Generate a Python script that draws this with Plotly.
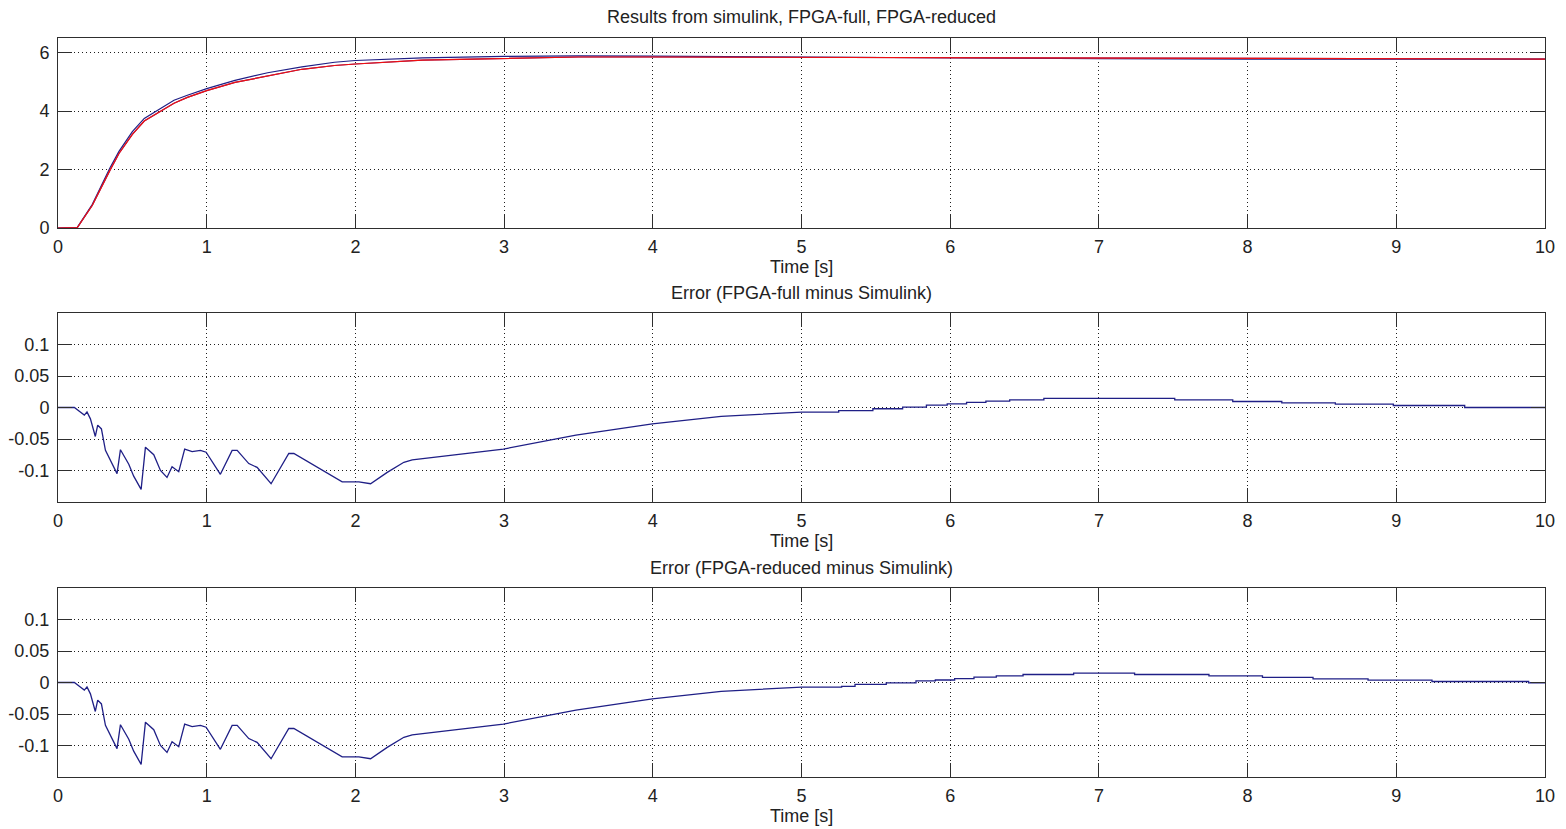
import plotly.graph_objects as go

# ---------------- data ----------------
# Top panel: step responses
time_resp = [0, 0.1, 0.13, 0.23, 0.29, 0.35, 0.41, 0.5, 0.58, 0.67, 0.78, 0.87, 1.0, 1.19,
             1.41, 1.64, 1.86, 2.0, 2.45, 3.0, 3.5, 4.0, 5.0, 6.0, 7.0, 8.0, 9.0, 10.0]
simulink = [0, 0, 0.02, 0.8, 1.43, 2.06, 2.62, 3.3, 3.75, 4.03, 4.37, 4.54, 4.77, 5.05,
            5.31, 5.51, 5.67, 5.73, 5.82, 5.87, 5.89, 5.88, 5.85, 5.81, 5.79, 5.78, 5.78, 5.78]
fpga_full = [0, 0, 0.017, 0.77, 1.40, 1.98, 2.55, 3.20, 3.66, 3.94, 4.27, 4.47, 4.70, 4.98,
             5.20, 5.43, 5.56, 5.61, 5.74, 5.80, 5.85, 5.85, 5.84, 5.82, 5.81, 5.79, 5.78, 5.78]
fpga_reduced = [0, 0, 0.017, 0.77, 1.40, 1.98, 2.55, 3.20, 3.66, 3.94, 4.27, 4.47, 4.70, 4.98,
                5.20, 5.43, 5.56, 5.61, 5.74, 5.80, 5.85, 5.85, 5.84, 5.814, 5.805, 5.79, 5.78, 5.78]

# Error panels: common early part (0 .. 5 s)
err_time_early = [0, 0.11, 0.15, 0.177, 0.195, 0.218, 0.251, 0.267, 0.292, 0.319, 0.397, 0.42,
                  0.476, 0.509, 0.559, 0.588, 0.644, 0.689, 0.733, 0.767, 0.812, 0.852, 0.902,
                  0.958, 0.996, 1.048, 1.092, 1.171, 1.205, 1.283, 1.339, 1.433, 1.552, 1.586,
                  1.709, 1.821, 1.911, 2.023, 2.102, 2.214, 2.326, 2.382, 2.995, 3.483, 3.997,
                  4.46]
err_early = [0, 0, -0.007, -0.012, -0.007, -0.018, -0.046, -0.028, -0.034, -0.068, -0.105, -0.067,
             -0.09, -0.109, -0.13, -0.063, -0.075, -0.1, -0.111, -0.094, -0.102, -0.066, -0.07,
             -0.068, -0.071, -0.09, -0.106, -0.068, -0.068, -0.089, -0.095, -0.121, -0.073, -0.073,
             -0.09, -0.106, -0.118, -0.118, -0.121, -0.103, -0.087, -0.083, -0.066, -0.044, -0.026,
             -0.014]

# Late quantised steps, FPGA-full
err_time_full_late = [5.0, 5.25, 5.25, 5.48, 5.48, 5.68, 5.68, 5.84, 5.84, 5.98, 5.98, 6.11, 6.11,
                      6.24, 6.24, 6.4, 6.4, 6.63, 6.63, 7.51, 7.51, 7.9, 7.9, 8.23, 8.23, 8.59,
                      8.59, 8.98, 8.98, 9.46, 9.46, 10.0]
err_full_late = [-0.0074, -0.0074, -0.005, -0.005, -0.002, -0.002, 0.0005, 0.0005, 0.0037, 0.0037,
                 0.0058, 0.0058, 0.008, 0.008, 0.010, 0.010, 0.012, 0.012, 0.0145, 0.0145, 0.012,
                 0.012, 0.0095, 0.0095, 0.0074, 0.0074, 0.0053, 0.0053, 0.0032, 0.0032, 0.0, 0.0]

# Late quantised steps, FPGA-reduced
err_time_red_late = [5.0, 5.27, 5.27, 5.36, 5.36, 5.57, 5.57, 5.77, 5.77, 5.9, 5.9, 6.03, 6.03,
                     6.16, 6.16, 6.31, 6.31, 6.49, 6.49, 6.83, 6.83, 7.24, 7.24, 7.74, 7.74, 8.1,
                     8.1, 8.44, 8.44, 8.81, 8.81, 9.24, 9.24, 9.89, 9.89, 10.0]
err_red_late = [-0.0074, -0.0074, -0.006, -0.006, -0.003, -0.003, -0.0005, -0.0005, 0.0026, 0.0026,
                0.004, 0.004, 0.0063, 0.0063, 0.0085, 0.0085, 0.0106, 0.0106, 0.0127, 0.0127,
                0.0150, 0.0150, 0.0127, 0.0127, 0.0106, 0.0106, 0.008, 0.008, 0.0058, 0.0058,
                0.0037, 0.0037, 0.0016, 0.0016, -0.0005, -0.0005]

x_ticks = list(range(0, 11))
top_y_ticks = [0, 2, 4, 6]
err_y_ticks = [-0.1, -0.05, 0, 0.05, 0.1]
err_y_labels = ["-0.1", "-0.05", "0", "0.05", "0.1"]

titles = ["Results from simulink, FPGA-full, FPGA-reduced",
          "Error (FPGA-full minus Simulink)",
          "Error (FPGA-reduced minus Simulink)"]
x_label = "Time [s]"

# ---------------- figure ----------------
W, H = 1566, 829
FONT = "Liberation Sans, Arial, sans-serif"
FS = 18
BLUE = "#1f1f86"
PURPLE = "#6a1f7a"
RED = "#f01010"

fig = go.Figure()
fig.add_trace(go.Scatter(x=time_resp, y=simulink, mode="lines", line=dict(color=BLUE, width=1.2),
                         xaxis="x", yaxis="y", name="simulink"))
fig.add_trace(go.Scatter(x=time_resp, y=fpga_full, mode="lines", line=dict(color=PURPLE, width=1.2),
                         xaxis="x", yaxis="y", name="FPGA-full"))
fig.add_trace(go.Scatter(x=time_resp, y=fpga_reduced, mode="lines", line=dict(color=RED, width=1.2),
                         xaxis="x", yaxis="y", name="FPGA-reduced"))
fig.add_trace(go.Scatter(x=err_time_early + err_time_full_late, y=err_early + err_full_late,
                         mode="lines", line=dict(color=BLUE, width=1.3),
                         xaxis="x2", yaxis="y2", name="err full"))
fig.add_trace(go.Scatter(x=err_time_early + err_time_red_late, y=err_early + err_red_late,
                         mode="lines", line=dict(color=BLUE, width=1.3),
                         xaxis="x3", yaxis="y3", name="err reduced"))

def px_x(p):
    return p / W

def px_y(p):
    return 1 - p / H

x_dom = [px_x(58), px_x(1545)]
panels = [(38, 228), (313, 502), (588, 777)]

axis_common = dict(
    showline=True, linecolor="#2e2e2e", linewidth=1, mirror="ticks",
    ticks="inside", ticklen=14, tickcolor="#2e2e2e", tickwidth=1,
    showgrid=True, gridcolor="#1e1e1e", gridwidth=1, griddash="1px,3px",
    zeroline=False, tickfont=dict(family=FONT, size=FS, color="#222"),
    fixedrange=True, automargin=False,
)

layout = dict(
    width=W, height=H, paper_bgcolor="white", plot_bgcolor="white",
    margin=dict(l=0, r=0, t=0, b=0, autoexpand=False), showlegend=False,
    font=dict(family=FONT, size=FS, color="#222"),
)
for i, (top, bot) in enumerate(panels):
    s = "" if i == 0 else str(i + 1)
    xa = dict(axis_common, domain=x_dom, range=[0, 10], tickvals=x_ticks,
              anchor="y" + s, ticklabelstandoff=2)
    if i == 0:
        ya = dict(axis_common, domain=[px_y(bot), px_y(top)], range=[0, 6.5],
                  tickvals=top_y_ticks, anchor="x" + s, ticklabelstandoff=4)
    else:
        ya = dict(axis_common, domain=[px_y(bot), px_y(top)], range=[-0.15, 0.15],
                  tickvals=err_y_ticks, ticktext=err_y_labels, anchor="x" + s,
                  ticklabelstandoff=4)
    layout["xaxis" + s] = xa
    layout["yaxis" + s] = ya

fig.update_layout(**layout)

title_y = [17, 293, 568]
label_y = [267, 541, 816]
xc = px_x((58 + 1545) / 2)
for i in range(3):
    fig.add_annotation(text=titles[i], xref="paper", yref="paper", x=xc, y=px_y(title_y[i]),
                       xanchor="center", yanchor="middle", showarrow=False,
                       font=dict(family=FONT, size=FS, color="#222"))
    fig.add_annotation(text=x_label, xref="paper", yref="paper", x=xc, y=px_y(label_y[i]),
                       xanchor="center", yanchor="middle", showarrow=False,
                       font=dict(family=FONT, size=FS, color="#222"))

fig.write_html("out.html", config={"displayModeBar": False},
               post_script="document.body.style.margin='0';document.body.style.overflow='hidden';")
